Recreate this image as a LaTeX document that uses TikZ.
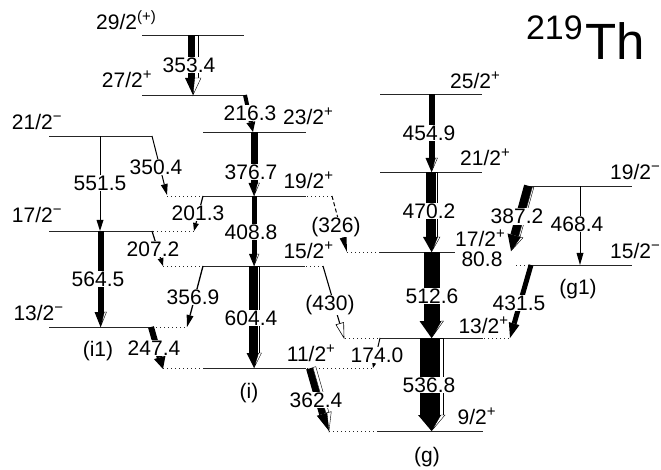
\documentclass[tikz,border=0pt]{standalone}
\usepackage{fontspec}
\setmainfont{Liberation Sans}
\usetikzlibrary{calc}

% small raised spin-parity sign
\newcommand\sps[1]{\raisebox{8pt}{\fontsize{15}{15}\selectfont #1}}

% direction and length of a transition between two named coordinates
\newcommand\gamsetup[2]{%
  \pgfpointanchor{#1}{center}\pgfgetlastxy{\gxa}{\gya}%
  \pgfpointanchor{#2}{center}\pgfgetlastxy{\gxb}{\gyb}%
  \pgfmathsetmacro\gang{atan2(\gyb-\gya,\gxb-\gxa)}%
  \pgfmathsetmacro\glen{veclen(\gxb-\gxa,\gyb-\gya)}}

% gamma transition: from, to, gamma width, conversion width, head width, head length
\newcommand\gam[6]{%
  \gamsetup{#1}{#2}%
  \pgfmathsetmacro\qa{-(#3+#4)/2}%
  \pgfmathsetmacro\qb{\qa+#3}%
  \pgfmathsetmacro\qc{(#3+#4)/2}%
  \pgfmathsetmacro\qh{#5/2}%
  \pgfmathsetmacro\qs{\glen-#6}%
  \pgfmathsetmacro\qd{\qb*\qh/\qc}%
  \begin{scope}[shift={(\gxa,\gya)},rotate=\gang]
    \fill (0pt,\qa pt) rectangle (\qs pt,\qb pt);
    \ifdim #4pt>0pt
      \filldraw[fill=white,line width=0.4pt] (0pt,\qb pt) rectangle (\qs pt,\qc pt);
      \filldraw[fill=white,line width=0.4pt] (\qs pt,\qd pt) -- (\glen pt,0pt) -- (\qs pt,\qh pt) -- cycle;
    \fi
    \fill (\qs pt,-\qh pt) -- (\glen pt,0pt) -- (\qs pt,\qd pt) -- cycle;
  \end{scope}}

% tentative transition, dashed shaft
\newcommand\gamdash[4]{%
  \gamsetup{#1}{#2}%
  \pgfmathsetmacro\qh{#3/2}%
  \pgfmathsetmacro\qs{\glen-#4}%
  \begin{scope}[shift={(\gxa,\gya)},rotate=\gang]
    \draw[line width=1pt,dash pattern=on 4pt off 2.5pt] (0pt,0pt) -- (\qs pt,0pt);
    \fill (\qs pt,-\qh pt) -- (\glen pt,0pt) -- (\qs pt,\qh pt) -- cycle;
  \end{scope}}

% tentative transition, open head
\newcommand\gamopen[4]{%
  \gamsetup{#1}{#2}%
  \pgfmathsetmacro\qh{#3/2}%
  \pgfmathsetmacro\qs{\glen-#4}%
  \begin{scope}[shift={(\gxa,\gya)},rotate=\gang]
    \draw[line width=1.1pt] (0pt,0pt) -- (\qs pt,0pt);
    \filldraw[fill=white,line width=0.6pt] (\qs pt,-\qh pt) -- (\glen pt,0pt) -- (\qs pt,\qh pt) -- cycle;
  \end{scope}}

\tikzset{
  lvl/.style={line width=0.8pt,black!85},
  ext/.style={line width=0.8pt,black!85,dash pattern=on 1pt off 3pt},
  en/.style={fill=white,inner sep=0.6pt,font=\fontsize{21}{23}\selectfont},
  spin/.style={anchor=base west,inner sep=0pt,font=\fontsize{21}{23}\selectfont},
  band/.style={inner sep=0pt,font=\fontsize{21}{23}\selectfont},
}

\begin{document}
\begin{tikzpicture}[x=1pt,y=-1pt]
\useasboundingbox (0,0) rectangle (661,470);

% ---- levels, band (i1)
\draw[lvl] (49,136) -- (152,136);
\draw[lvl] (49,231) -- (152,231);  \draw[ext] (153,231) -- (194,231);
\draw[lvl] (49,327) -- (150,327);  \draw[ext] (156,327) -- (187,327);
% ---- levels, band (i)
\draw[lvl] (142,35) -- (244,35);
\draw[lvl] (142,95) -- (245,95);
\draw[lvl] (203,132) -- (306,132);
\draw[lvl] (203,196) -- (306,196); \draw[ext] (167,196) -- (203,196); \draw[ext] (307,196) -- (332,196);
\draw[lvl] (203,266) -- (305,266); \draw[ext] (163,266) -- (203,266); \draw[ext] (306,266) -- (325,266);
\draw[lvl] (203,368) -- (306,368); \draw[ext] (163,368) -- (203,368); \draw[ext] (307,368) -- (373,368);
% ---- levels, band (g)
\draw[lvl] (380,94) -- (482,94);
\draw[lvl] (380,172) -- (482,172);
\draw[lvl] (380,252) -- (455,252); \draw[ext] (347,252) -- (380,252);
\draw[lvl] (380,338) -- (483,338); \draw[ext] (345,338) -- (380,338); \draw[ext] (484,338) -- (509,338);
\draw[lvl] (378,431) -- (483,431); \draw[ext] (329,431) -- (378,431);
% ---- levels, band (g1)
\draw[lvl] (529,186) -- (632,186);
\draw[lvl] (530,265) -- (632,265); \draw[ext] (516,265) -- (530,265);

% ---- transition end points
\coordinate (s3534) at (193,35);   \coordinate (e3534) at (193,95);
\coordinate (s2163) at (245,95);   \coordinate (e2163) at (253,132);
\coordinate (s3767) at (254,132);  \coordinate (e3767) at (254,196);
\coordinate (s4088) at (254,196);  \coordinate (e4088) at (254,266);
\coordinate (s6044) at (254,266);  \coordinate (e6044) at (254,368);
\coordinate (s3504) at (152,136);  \coordinate (e3504) at (167,195);
\coordinate (s5515) at (100,136);  \coordinate (e5515) at (100,231);
\coordinate (s2013) at (203,196);  \coordinate (e2013) at (194,231);
\coordinate (s5645) at (100.5,231);\coordinate (e5645) at (100.5,327);
\coordinate (s2072) at (152,231);  \coordinate (e2072) at (163,266);
\coordinate (s3569) at (203,266);  \coordinate (e3569) at (187,327);
\coordinate (s2474) at (151,327);  \coordinate (e2474) at (163,369);
\coordinate (s326)  at (332,196);  \coordinate (e326)  at (347,252);
\coordinate (s430)  at (323,266);  \coordinate (e430)  at (344,338);
\coordinate (s1740) at (380,338);  \coordinate (e1740) at (373,368);
\coordinate (s3624) at (311,368);  \coordinate (e3624) at (329,431);
\coordinate (s4549) at (431.5,94); \coordinate (e4549) at (431.5,172);
\coordinate (s4702) at (431.5,172);\coordinate (e4702) at (431.5,252);
\coordinate (s5126) at (431.5,252);\coordinate (e5126) at (431.5,338);
\coordinate (s5368) at (431.5,338);\coordinate (e5368) at (431.5,431);
\coordinate (s3872) at (529,186);  \coordinate (e3872) at (511,251);
\coordinate (s4684) at (580,186);  \coordinate (e4684) at (580,265);
\coordinate (s4315) at (531,265);  \coordinate (e4315) at (510,338);

% ---- transitions
\gam{s3534}{e3534}{6}{4}{16}{17}
\gam{s2163}{e2163}{4}{0}{9}{10}
\gam{s3767}{e3767}{4.5}{1}{11}{13}
\gam{s4088}{e4088}{4}{1}{10}{12}
\gam{s6044}{e6044}{8}{2}{15}{15}
\gam{s3504}{e3504}{1}{0}{7}{11}
\gam{s5515}{e5515}{1}{0}{7}{11}
\gam{s2013}{e2013}{1.2}{0}{6}{8}
\gam{s5645}{e5645}{4.4}{1}{12}{15}
\gam{s2072}{e2072}{1.2}{0}{6}{8}
\gam{s3569}{e3569}{1.3}{0}{7}{12}
\gam{s2474}{e2474}{6}{0}{12}{12}
\gamdash{s326}{e326}{7}{15}
\gamopen{s430}{e430}{8}{15}
\gam{s1740}{e1740}{1}{0}{4}{5}
\gam{s3624}{e3624}{7}{3}{15}{18}
\gam{s4549}{e4549}{4.7}{1}{12}{14}
\gam{s4702}{e4702}{9}{1.5}{17}{15}
\gam{s5126}{e5126}{14.5}{1.5}{24}{17}
\gam{s5368}{e5368}{19}{3.5}{27}{16}
\gam{s3872}{e3872}{8.5}{1.5}{16}{16}
\gam{s4684}{e4684}{1}{0}{7}{12}
\gam{s4315}{e4315}{5}{0}{11}{15}

% ---- transition energies
\node[en] (t3534) at (189,65) {353.4};
\node[en] (t2163) at (250,113) {216.3};
\node[en] (t3767) at (251,172) {376.7};
\node[en] (t3504) at (156,167) {350.4};
\node[en] (t5515) at (100,183) {551.5};
\node[en] (t2013) at (198,213) {201.3};
\node[en] (t4088) at (251,232) {408.8};
\node[en] (t326)  at (336,227) {(326)};
\node[en] (t2072) at (153,249) {207.2};
\node[en] (t5645) at (98,279) {564.5};
\node[en] (t3569) at (193,297) {356.9};
\node[en] (t6044) at (251,318) {604.4};
\node[en] (t2474) at (154,348) {247.4};
\node[en] (t430)  at (330,305) {(430)};
\node[en] (t1740) at (377,355) {174.0};
\node[en] (t3624) at (316,400) {362.4};
\node[en] (t4549) at (429,133) {454.9};
\node[en] (t4702) at (429,211) {470.2};
\node[en] (t5126) at (432,296) {512.6};
\node[en] (t5368) at (429,385) {536.8};
\node[en] (t3872) at (517,216.5) {387.2};
\node[en] (t4684) at (577,224) {468.4};
\node[en] (t4315) at (519,303) {431.5};
\node[en,fill=none] (t808) at (482,259) {80.8};

% ---- spins and parities
\node[spin] (j29)  at (96,29.3)   {29/2\sps{(+)}};
\node[spin] (j27)  at (101.7,88)  {27/2\sps{+}};
\node[spin] (j23)  at (283,125)   {23/2\sps{+}};
\node[spin] (j21m) at (11.7,130)  {21/2\sps{−}};
\node[spin] (j19p) at (283.3,188.3) {19/2\sps{+}};
\node[spin] (j17m) at (11.7,223)  {17/2\sps{−}};
\node[spin] (j15p) at (283.3,258.3) {15/2\sps{+}};
\node[spin] (j13m) at (13.3,320)  {13/2\sps{−}};
\node[spin] (j11p) at (286.7,361.7) {11/2\sps{+}};
\node[spin] (j25p) at (450,88.3)  {25/2\sps{+}};
\node[spin] (j21p) at (460,165.7) {21/2\sps{+}};
\node[spin] (j19m) at (610,180)   {19/2\sps{−}};
\node[spin] (j17p) at (455,246.5) {17/2\sps{+}};
\node[spin] (j15m) at (610,258.3) {15/2\sps{−}};
\node[spin] (j13p) at (458.3,333.3) {13/2\sps{+}};
\node[spin] (j9p)  at (457.5,424) {9/2\sps{+}};

% ---- band labels
\node[band] (bi1) at (98,351)  {(i1)};
\node[band] (bi)  at (249,393) {(i)};
\node[band] (bg)  at (427,457) {(g)};
\node[band] (bg1) at (578,289) {(g1)};

% ---- nucleus
\node[anchor=base west,inner sep=0pt,font=\fontsize{51}{51}\selectfont] (nucl) at (585,60) {Th};
\node[anchor=base east,inner sep=0pt,font=\fontsize{34}{34}\selectfont] (mass) at (583,40) {219};
\end{tikzpicture}
\end{document}
